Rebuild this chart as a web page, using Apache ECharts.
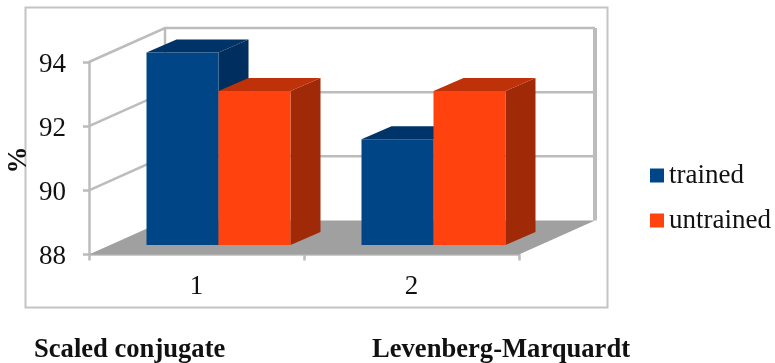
<!DOCTYPE html>
<html>
<head>
<meta charset="utf-8">
<style>html,body{margin:0;padding:0;background:#fff}#chart{width:775px;height:363px}</style>
<script src="https://cdn.jsdelivr.net/npm/echarts@6/dist/echarts.min.js"></script>
</head>
<body>
<div id="chart"></div>
<script>
// Recognition rate of the two training algorithms
const categories = ['1', '2'];
const yTicks = [88, 90, 92, 94];
const trained = [94.0, 91.3];
const untrained = [92.8, 92.8];

const FONT = '"Liberation Serif", "Times New Roman", serif';
const WALL = '#bcbcbc';
const WALL_W = 2.5;
// Oblique projection offsets for the chart box and for the bars
const WALL_DX = 76, WALL_DY = -34;
const BAR_DX = 30, BAR_DY = -13;
const PLANE_DX = 22, PLANE_DY = -9.5;
const BAR_W = 72;

const chart = echarts.init(document.getElementById('chart'), null, {renderer: 'canvas'});

// Draws one floor, or one pair of wall grid lines per value tick
function renderWalls(params, api) {
  const v = api.value(0);
  const band = api.size([1, 0])[0];
  const p = api.coord([0, v]);
  const x0 = p[0] - band / 2, x1 = x0 + 2 * band, y = p[1];
  const bx0 = x0 + WALL_DX, bx1 = x1 + WALL_DX, by = y + WALL_DY;
  const line = {stroke: WALL, lineWidth: WALL_W};
  const children = [];
  if (v === yTicks[0]) {
    children.push({
      type: 'polygon',
      shape: {points: [[x0, y], [bx0, by], [bx1, by], [x1, y]]},
      style: {fill: '#a0a0a0'}
    });
  } else {
    children.push({type: 'polyline', shape: {points: [[x0, y], [bx0, by], [bx1, by]]}, style: {...line, fill: null}});
  }
  if (v === yTicks[yTicks.length - 1]) {
    const yBase = api.coord([0, yTicks[0]])[1] + WALL_DY;
    children.push({type: 'line', shape: {x1: bx0, y1: by, x2: bx0, y2: yBase}, style: line});
    children.push({type: 'line', shape: {x1: bx1, y1: by, x2: bx1, y2: yBase}, style: {stroke: WALL, lineWidth: 4}});
  }
  return {type: 'group', children};
}

// Draws a bar as front, top and side faces; side selects its slot in the category
function barRenderer(side, front, top, flank) {
  return function (params, api) {
    const idx = api.value(0);
    const c = api.coord([idx, api.value(1)]);
    const base = api.coord([idx, yTicks[0]]);
    const xL = c[0] + PLANE_DX + side * BAR_W;
    const xR = xL + BAR_W;
    const yT = c[1] + PLANE_DY;
    const yB = base[1] + PLANE_DY;
    return {
      type: 'group',
      children: [
        {type: 'polygon', shape: {points: [[xR, yT], [xR + BAR_DX, yT + BAR_DY], [xR + BAR_DX, yB + BAR_DY], [xR, yB]]}, style: {fill: flank}},
        {type: 'polygon', shape: {points: [[xL, yT], [xL + BAR_DX, yT + BAR_DY], [xR + BAR_DX, yT + BAR_DY], [xR, yT]]}, style: {fill: top}},
        {type: 'rect', shape: {x: xL, y: yT, width: BAR_W, height: yB - yT}, style: {fill: front}}
      ]
    };
  };
}

const axisStyle = {lineStyle: {color: WALL, width: WALL_W}};

chart.setOption({
  animation: false,
  backgroundColor: '#fff',
  grid: {left: 89, right: 256, top: 62, bottom: 108.5, outerBoundsMode: 'none'},
  legend: {
    data: ['trained', 'untrained'],
    orient: 'vertical',
    left: 650,
    top: 162,
    padding: 0,
    itemWidth: 14,
    itemHeight: 14,
    itemGap: 18,
    icon: 'rect',
    selectedMode: false,
    textStyle: {fontFamily: FONT, fontSize: 27, color: '#111'}
  },
  xAxis: {
    type: 'category',
    data: categories,
    axisLine: axisStyle,
    axisTick: {show: true, length: 6, lineStyle: {color: WALL, width: WALL_W}},
    axisLabel: {fontFamily: FONT, fontSize: 27, color: '#111', margin: 19},
    splitLine: {show: false}
  },
  yAxis: {
    type: 'value',
    min: 88,
    max: 94,
    interval: 2,
    axisLine: {show: true, ...axisStyle},
    axisTick: {show: true, length: 6, lineStyle: {color: WALL, width: WALL_W}},
    axisLabel: {
      margin: 23,
      formatter: '{v|{value}}',
      rich: {v: {fontFamily: FONT, fontSize: 27, color: '#111', padding: [5, 0, 0, 0]}}
    },
    splitLine: {show: false}
  },
  graphic: [
    {type: 'rect', z: -1, shape: {x: 25.5, y: 7.5, width: 582, height: 300}, style: {fill: '#fff', stroke: '#c4c4c4', lineWidth: 2}},
    {type: 'text', x: 19, y: 160, rotation: Math.PI / 2, style: {text: '%', font: 'bold 27px ' + FONT, fill: '#111', textAlign: 'center', textVerticalAlign: 'middle'}},
    {type: 'text', x: 34, y: 350, style: {text: 'Scaled conjugate', font: 'bold 26.6px ' + FONT, fill: '#111', textVerticalAlign: 'middle'}},
    {type: 'text', x: 372, y: 350, style: {text: 'Levenberg-Marquardt', font: 'bold 26.6px ' + FONT, fill: '#111', textVerticalAlign: 'middle'}}
  ],
  series: [
    {
      name: 'walls',
      type: 'custom',
      coordinateSystem: 'cartesian2d',
      silent: true,
      z: 1,
      encode: {y: 0},
      data: yTicks.map(v => [v]),
      renderItem: renderWalls
    },
    {
      name: 'trained',
      type: 'custom',
      coordinateSystem: 'cartesian2d',
      z: 3,
      itemStyle: {color: '#004586'},
      encode: {x: 0, y: 1},
      data: trained.map((v, i) => [i, v]),
      renderItem: barRenderer(-1, '#004586', '#003468', '#002f5f')
    },
    {
      name: 'untrained',
      type: 'custom',
      coordinateSystem: 'cartesian2d',
      z: 4,
      itemStyle: {color: '#ff420e'},
      encode: {x: 0, y: 1},
      data: untrained.map((v, i) => [i, v]),
      renderItem: barRenderer(0, '#ff420e', '#bf3108', '#a02a08')
    }
  ]
});
</script>
</body>
</html>
